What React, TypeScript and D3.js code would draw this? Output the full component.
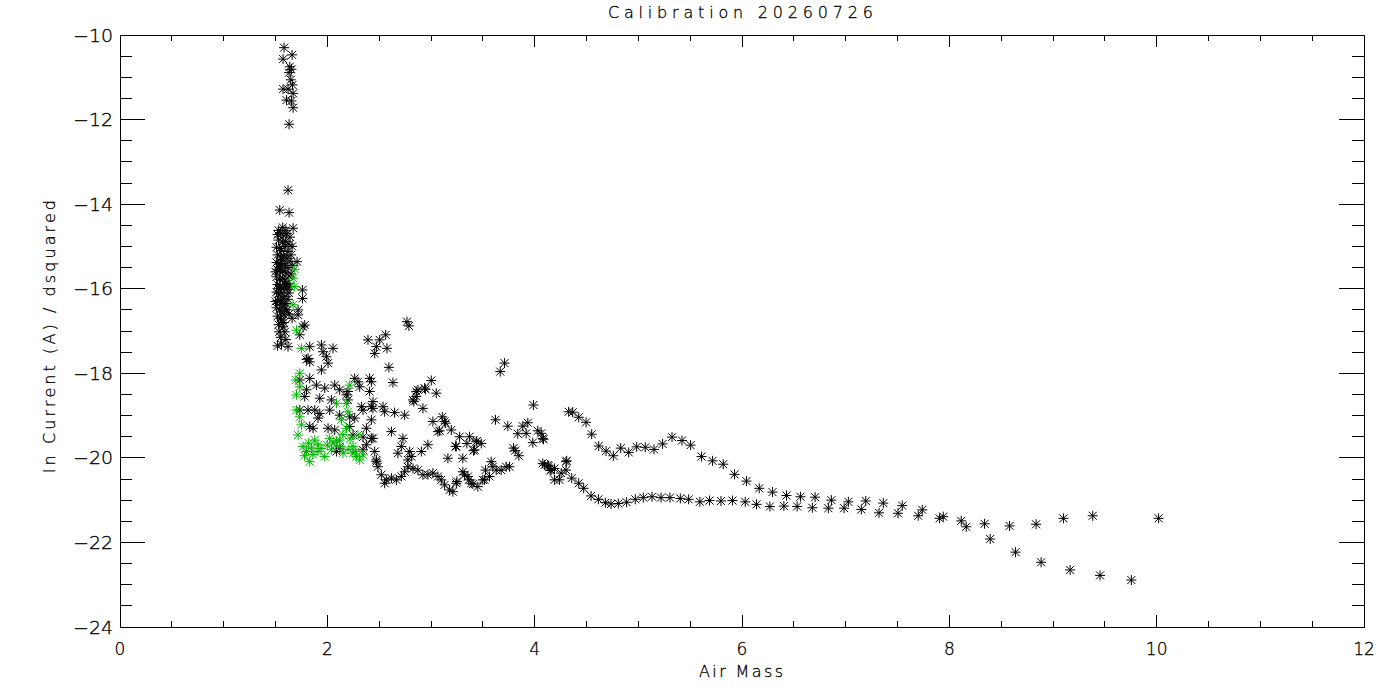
import React from "react";
import * as d3 from "d3";

// [air mass, ln current / d^2]
const spikePoints: [number, number][] = [
  [1.583, -10.3], [1.66, -10.47], [1.573, -10.57], [1.638, -10.75], [1.654, -10.81],
  [1.631, -10.89], [1.647, -11.06], [1.664, -11.18], [1.573, -11.28], [1.621, -11.28],
  [1.67, -11.38], [1.606, -11.54], [1.654, -11.56], [1.67, -11.72], [1.631, -12.11],
  [1.621, -13.67], [1.541, -14.14], [1.631, -14.2], [1.67, -14.57],
];

const denseBlock: [number, number][] = [
  [1.52, -14.72], [1.55, -14.68], [1.58, -14.75], [1.61, -14.7], [1.53, -14.85],
  [1.57, -14.9], [1.6, -14.88], [1.63, -14.95], [1.51, -15.02], [1.54, -15.05],
  [1.56, -15.1], [1.59, -15.0], [1.62, -15.12], [1.52, -15.2], [1.55, -15.25],
  [1.58, -15.22], [1.61, -15.28], [1.64, -15.35], [1.51, -15.38], [1.53, -15.42],
  [1.56, -15.4], [1.59, -15.45], [1.62, -15.5], [1.52, -15.55], [1.55, -15.6],
  [1.57, -15.58], [1.6, -15.62], [1.63, -15.7], [1.51, -15.72], [1.54, -15.78],
  [1.57, -15.75], [1.59, -15.82], [1.62, -15.88], [1.52, -15.9], [1.55, -15.95],
  [1.58, -15.98], [1.61, -16.02], [1.51, -16.08], [1.53, -16.12], [1.56, -16.1],
  [1.59, -16.18], [1.62, -16.25], [1.52, -16.28], [1.55, -16.32], [1.57, -16.38],
  [1.6, -16.35], [1.51, -16.45], [1.54, -16.5], [1.56, -16.55], [1.59, -16.48],
  [1.52, -16.65], [1.55, -16.7], [1.58, -16.62], [1.64, -14.78], [1.66, -15.0],
  [1.65, -15.2], [1.66, -15.45], [1.65, -15.65], [1.64, -15.95], [1.63, -16.1],
  [1.6, -14.62], [1.53, -14.62], [1.57, -15.32], [1.54, -15.5], [1.6, -15.9],
  [1.57, -16.25], [1.53, -16.0], [1.5, -15.6], [1.5, -16.3], [1.61, -16.5],
  [1.58, -16.8], [1.53, -16.85], [1.63, -16.6], [1.55, -17.15], [1.6, -17.2],
  [1.52, -17.35], [1.57, -14.55], [1.66, -16.7],
];

const knee: [number, number][] = [
  [1.708, -15.36], [1.76, -16.03], [1.76, -16.23], [1.718, -16.5], [1.718, -16.62],
  [1.558, -16.74], [1.573, -16.9], [1.535, -17.02], [1.59, -17.02], [1.766, -16.9],
  [1.782, -16.86], [1.734, -17.09], [1.558, -17.31], [1.621, -17.37], [1.83, -17.37],
  [1.943, -17.33], [2.055, -17.41], [1.959, -17.49], [1.991, -17.61], [1.814, -17.65],
  [1.799, -17.67], [1.83, -17.73], [2.007, -17.76], [1.943, -17.92],
];

const scatterMid: [number, number][] = [
  [2.768, -16.78], [2.787, -16.88], [2.392, -17.21], [2.505, -17.21], [2.563, -17.09],
  [2.473, -17.37], [2.575, -17.41], [2.457, -17.53], [2.594, -17.86], [3.668, -17.96],
  [3.709, -17.76], [1.83, -18.12], [1.734, -18.16], [1.895, -18.28], [1.975, -18.35],
  [2.071, -18.28], [2.119, -18.39], [2.199, -18.43], [2.264, -18.12], [2.296, -18.2],
  [2.312, -18.32], [2.408, -18.12], [2.425, -18.2], [2.633, -18.22], [2.858, -18.43],
  [2.938, -18.35], [3.003, -18.17], [3.051, -18.47], [2.874, -18.39], [2.948, -18.38],
  [2.826, -18.63], [2.835, -18.67], [2.858, -18.55], [2.922, -18.83], [1.799, -18.39],
  [1.927, -18.59], [1.782, -18.55], [2.039, -18.63], [2.184, -18.51], [2.199, -18.63],
  [2.329, -18.79], [2.408, -18.43], [2.44, -18.67], [2.425, -18.79], [2.537, -18.79],
  [2.44, -18.83], [1.734, -18.87], [1.814, -18.87], [1.879, -18.87], [1.927, -18.95],
  [1.91, -19.06], [2.023, -18.87], [2.119, -18.99], [2.216, -19.03], [2.264, -19.06],
  [2.344, -18.87], [2.425, -19.1], [2.553, -18.91], [2.649, -18.93], [2.746, -18.99],
  [1.83, -19.26], [1.862, -19.3], [2.007, -19.3], [2.071, -19.34], [2.216, -19.26],
  [2.377, -19.3], [2.248, -19.46], [2.425, -19.54], [2.344, -19.51], [2.618, -19.38],
  [2.729, -19.54], [2.44, -19.54], [3.018, -19.14], [3.109, -19.03], [3.067, -19.38],
  [3.131, -19.14], [3.141, -19.18], [3.083, -19.36], [3.196, -19.34], [3.276, -19.5],
  [3.372, -19.5], [3.436, -19.62], [3.346, -19.66], [3.442, -19.6], [3.485, -19.66],
  [3.41, -19.83], [3.622, -19.1], [3.741, -19.25], [3.885, -19.25], [3.934, -19.17],
  [3.988, -18.75], [3.837, -19.43], [3.918, -19.42], [4.03, -19.36], [4.063, -19.42],
  [3.982, -19.64], [4.078, -19.54], [4.085, -19.56], [3.796, -19.77], [3.812, -19.83],
  [3.847, -19.95], [2.119, -19.77], [2.088, -19.85], [2.344, -19.81], [2.377, -19.69],
  [2.457, -19.85], [2.714, -19.73], [2.794, -19.85], [2.907, -19.85], [2.97, -19.69],
  [2.681, -19.89], [2.81, -19.97], [2.777, -20.05], [3.163, -20.01], [3.307, -20.01],
  [3.244, -19.73], [3.237, -19.73], [3.42, -19.81], [2.473, -20.05],
];

const lowerTrough: [number, number][] = [
  [2.473, -20.09], [2.488, -20.21], [2.521, -20.4], [2.569, -20.52], [2.553, -20.6],
  [2.618, -20.48], [2.666, -20.52], [2.714, -20.44], [2.746, -20.33], [2.777, -20.21],
  [2.826, -20.25], [2.874, -20.29], [2.922, -20.4], [2.97, -20.4], [3.018, -20.36],
  [3.067, -20.44], [3.099, -20.52], [3.131, -20.64], [3.179, -20.76], [3.211, -20.8],
  [3.244, -20.6], [3.25, -20.56], [3.307, -20.33], [3.324, -20.4], [3.356, -20.44],
  [3.365, -20.52], [3.388, -20.6], [3.404, -20.62], [3.452, -20.68], [3.5, -20.52],
  [3.516, -20.52], [3.526, -20.29], [3.565, -20.44], [3.581, -20.09], [3.596, -20.21],
  [3.629, -20.29], [3.677, -20.29], [3.725, -20.21], [3.757, -20.21], [4.078, -20.13],
  [4.094, -20.17], [4.126, -20.17], [4.136, -20.19], [4.149, -20.3], [4.159, -20.29],
  [4.191, -20.25], [4.191, -20.52], [4.239, -20.52], [4.255, -20.36], [4.303, -20.09],
  [4.309, -20.07], [4.303, -20.29],
];

const upperBranch: [number, number][] = [
  [4.328, -18.91], [4.367, -18.92], [4.425, -19.04], [4.496, -19.16], [4.55, -19.44],
  [4.618, -19.72], [4.689, -19.84], [4.759, -19.95], [4.83, -19.77], [4.907, -19.87],
  [4.984, -19.74], [5.067, -19.75], [5.151, -19.8], [5.234, -19.67], [5.325, -19.51],
  [5.421, -19.59], [5.504, -19.7], [5.61, -19.97], [5.716, -20.07], [5.819, -20.15],
  [5.928, -20.39], [6.043, -20.55], [6.166, -20.72], [6.294, -20.81], [6.429, -20.89],
  [6.564, -20.92], [6.705, -20.93], [6.862, -21.0], [7.026, -21.04], [7.194, -21.02],
  [7.363, -21.07], [7.546, -21.13], [7.739, -21.23], [7.941, -21.39], [8.115, -21.49],
  [8.34, -21.56], [8.581, -21.61], [8.837, -21.57], [9.101, -21.43], [9.383, -21.37],
  [10.019, -21.43],
];

const lowerBranch: [number, number][] = [
  [4.357, -20.48], [4.425, -20.6], [4.473, -20.72], [4.544, -20.9], [4.615, -20.98],
  [4.682, -21.06], [4.737, -21.09], [4.807, -21.08], [4.887, -21.05], [4.971, -20.98],
  [5.048, -20.94], [5.132, -20.92], [5.219, -20.94], [5.305, -20.94], [5.405, -20.96],
  [5.485, -20.98], [5.594, -21.04], [5.687, -21.01], [5.797, -21.02], [5.908, -21.01],
  [6.031, -21.04], [6.14, -21.1], [6.269, -21.15], [6.404, -21.14], [6.532, -21.15],
  [6.679, -21.18], [6.833, -21.19], [6.985, -21.19], [7.151, -21.22], [7.322, -21.3],
  [7.505, -21.31], [7.7, -21.37], [7.906, -21.43], [8.163, -21.63], [8.394, -21.92],
  [8.639, -22.23], [8.885, -22.47], [9.165, -22.65], [9.454, -22.78], [9.756, -22.89],
];

const flaggedPoints: [number, number][] = [
  [1.686, -15.54], [1.67, -15.75], [1.686, -15.95], [1.67, -16.38], [1.702, -16.98],
  [1.75, -17.41], [1.734, -18.0], [1.696, -18.16], [1.734, -18.32], [1.702, -18.51],
  [2.216, -18.28], [2.088, -18.71], [2.184, -18.71], [2.199, -18.91], [1.702, -18.87],
  [1.734, -19.03], [1.75, -19.22], [1.718, -19.46], [2.136, -19.1], [2.184, -19.3],
  [2.296, -19.46], [1.766, -19.73], [1.799, -19.85], [1.847, -19.77], [1.879, -19.58],
  [1.91, -19.69], [1.83, -20.09], [1.91, -19.85], [1.975, -19.97], [2.023, -19.54],
  [2.055, -19.65], [2.119, -19.58], [2.039, -19.81], [2.119, -19.73], [2.151, -19.89],
  [2.248, -19.89], [2.28, -19.97], [2.312, -20.05], [2.344, -19.93], [2.248, -19.73],
  [1.78, -19.95], [1.86, -19.92], [1.94, -19.78], [2.0, -19.7], [2.09, -19.6],
  [2.2, -19.8], [2.27, -19.85], [1.82, -19.65], [2.15, -19.45], [2.22, -19.55],
];

const blackPoints = [
  ...spikePoints, ...denseBlock, ...knee, ...scatterMid,
  ...lowerTrough, ...upperBranch, ...lowerBranch,
];

const W = 1400;
const H = 700;
const FONT = "'DejaVu Sans', sans-serif";
const asterisk = "M-5,0H5M0,-5V5M-4,-4L4,4M-4,4L4,-4";

export default function App() {
  const x = d3.scaleLinear().domain([0, 12]).range([120, 1364]);
  const y = d3.scaleLinear().domain([-24, -10]).range([627, 35]);
  const [x0, x1] = x.range();
  const [y0, y1] = y.range();

  const xMajor = x.ticks(6);
  const xMinor = x.ticks(24).filter((t) => !xMajor.includes(t));
  const yMajor = y.ticks(7);
  const yMinor = y.ticks(28).filter((t) => !yMajor.includes(t));
  const fmt = d3.format("d");

  return (
    <svg
      width={W}
      height={H}
      style={{ position: "fixed", left: 0, top: 0, background: "#fff" }}
      fontFamily={FONT}
      fontWeight={200}
    >
      <rect x={0} y={0} width={W} height={H} fill="#fff" />
      {/* frame */}
      <rect x={x0} y={y1} width={x1 - x0} height={y0 - y1} fill="none" stroke="#000" shapeRendering="crispEdges" />
      <g stroke="#000" shapeRendering="crispEdges">
        {xMajor.map((t) => (
          <g key={"xM" + t}>
            <line x1={x(t)} x2={x(t)} y1={y0} y2={y0 - 12} />
            <line x1={x(t)} x2={x(t)} y1={y1} y2={y1 + 12} />
          </g>
        ))}
        {xMinor.map((t) => (
          <g key={"xm" + t}>
            <line x1={x(t)} x2={x(t)} y1={y0} y2={y0 - 6} />
            <line x1={x(t)} x2={x(t)} y1={y1} y2={y1 + 6} />
          </g>
        ))}
        {yMajor.map((t) => (
          <g key={"yM" + t}>
            <line x1={x0} x2={x0 + 25} y1={y(t)} y2={y(t)} />
            <line x1={x1} x2={x1 - 25} y1={y(t)} y2={y(t)} />
          </g>
        ))}
        {yMinor.map((t) => (
          <g key={"ym" + t}>
            <line x1={x0} x2={x0 + 12} y1={y(t)} y2={y(t)} />
            <line x1={x1} x2={x1 - 12} y1={y(t)} y2={y(t)} />
          </g>
        ))}
      </g>
      <g fill="#000" stroke="#000" strokeWidth={0.3}>
        <g fontSize={17}>
          {xMajor.map((t) => (
            <text key={"xl" + t} x={x(t)} y={y0 + 28} textAnchor="middle">
              {fmt(t)}
            </text>
          ))}
          {yMajor.map((t) => (
            <text key={"yl" + t} x={x0 - 7} y={y(t) + 6.5} textAnchor="end" textLength={40} lengthAdjust="spacingAndGlyphs">
              {fmt(t)}
            </text>
          ))}
        </g>
        <text x={740.5} y={17.5} textAnchor="middle" fontSize={16} textLength={265} lengthAdjust="spacing">
          Calibration 20260726
        </text>
        <text x={741} y={677} textAnchor="middle" fontSize={16} textLength={84} lengthAdjust="spacing">
          Air Mass
        </text>
        <text
          transform={`translate(55,336.5) rotate(-90)`}
          textAnchor="middle"
          fontSize={16}
          textLength={273}
          lengthAdjust="spacing"
        >
          ln Current (A) / dsquared
        </text>
      </g>
      <g stroke="#000" strokeWidth={1} fill="none">
        {blackPoints.map((p, i) => (
          <path key={"b" + i} d={asterisk} transform={`translate(${x(p[0])},${y(p[1])})`} />
        ))}
      </g>
      <g stroke="#00b400" strokeWidth={1} fill="none">
        {flaggedPoints.map((p, i) => (
          <path key={"g" + i} d={asterisk} transform={`translate(${x(p[0])},${y(p[1])})`} />
        ))}
      </g>
    </svg>
  );
}
